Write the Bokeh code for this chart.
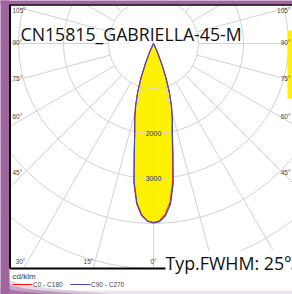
import numpy as np
from bokeh.plotting import figure
from bokeh.models import Label, Range1d
from bokeh.embed import file_html
from bokeh.resources import INLINE

# ---------------- data ----------------
title_text = "CN15815_GABRIELLA-45-M"
fwhm_text = "Typ.FWHM: 25°"
unit_text = "cd/klm"
series_names = ["C0 - C180", "C90 - C270"]

# angle from nadir (deg) and intensity (cd/klm)
angles = [0, 2, 4, 6, 8, 10, 12, 14, 16, 18, 20, 22, 24, 26, 28]
c0   = [3980, 3940, 3800, 3540, 3080, 2440, 1990, 1720, 1440, 1140, 800, 470, 220, 60, 0]
c180 = [3980, 3950, 3830, 3580, 3130, 2480, 2010, 1730, 1450, 1150, 810, 480, 220, 60, 0]
c90  = [3990, 3960, 3840, 3600, 3150, 2500, 2020, 1740, 1460, 1150, 810, 480, 225, 60, 0]
c270 = [3990, 3945, 3810, 3550, 3090, 2450, 2000, 1720, 1440, 1140, 800, 470, 220, 60, 0]

radial_grid = [1000, 2000, 3000, 4000, 5000, 6000, 7000]
radial_labels = {2000: "2000", 3000: "3000"}
angle_grid = list(range(0, 360, 15))
angle_labels_left = ["105°", "90°", "75°", "60°", "45°"]
angle_labels_bottom = ["30°", "15°", "0°"]
angle_labels_right = ["105°", "90°", "75°", "60°", "45°"]

# ---------------- layout helpers (page pixels -> data) ----------------
PX = 1000.0 / 45.0          # cd/klm per pixel
CX, CY = 153.0, 43.0        # page position of the polar centre
def X(px):
    return (np.asarray(px, float) - CX) * PX
def Y(py):
    return (CY - np.asarray(py, float)) * PX

W, H = 292, 294
p = figure(width=W, height=H, output_backend="svg", toolbar_location=None,
           x_range=Range1d(float(X(0)), float(X(W))), y_range=Range1d(float(Y(H)), float(Y(0))),
           x_axis_location=None, y_axis_location=None, min_border=0,
           outline_line_color=None, background_fill_color="white",
           border_fill_color="white")
p.grid.visible = False

GRID = "#d2d2d2"
PURPLE = "#a0649f"
YELLOW = "#fff200"
RED = "#ff1010"
BLUE = "#3a4fc0"
SMALL_FONT = "Liberation Sans"

def box(l, r, t, b, color, alpha=1.0):
    p.quad(left=float(X(l)), right=float(X(r)), top=float(Y(t)), bottom=float(Y(b)),
           fill_color=color, fill_alpha=alpha, line_color=None)

# lobe
def lobe(right, left):
    a = np.radians(angles)
    r = np.array(right, float)
    l = np.array(left, float)
    xs = np.concatenate([r * np.sin(a), (-l * np.sin(a))[::-1]])
    ys = np.concatenate([-r * np.cos(a), (-l * np.cos(a))[::-1]])
    return xs, ys

xr, yr = lobe(c0, c180)
xb, yb = lobe(c90, c270)
p.patch(xr, yr, fill_color=YELLOW, line_color=None)
p.patch(xb, yb, fill_color=YELLOW, line_color=None)

# grid circles
p.circle(x=[0] * len(radial_grid), y=[0] * len(radial_grid), radius=radial_grid,
         fill_color=None, line_color=GRID, line_width=1)
# radial lines
ang = np.radians(angle_grid)
p.segment(x0=1000 * np.sin(ang), y0=-1000 * np.cos(ang),
          x1=8000 * np.sin(ang), y1=-8000 * np.cos(ang),
          line_color=GRID, line_width=1)

# curves
p.line(xr, yr, line_color=RED, line_width=1.1)
p.line(xb, yb, line_color=BLUE, line_width=1.1)

# yellow bar at right edge
box(287, 300, 30, 98, YELLOW)

# white area below frame, purple surround
box(-5, 300, 268, 300, "white")
box(-5, 300, 290, 300, "#ece4ee")
box(-5, 300, -5, 4, PURPLE)
box(-5, 9, -5, 300, PURPLE)
for k, a in enumerate([0.25, 0.45, 0.7]):
    t = np.linspace(0, 1, 20)
    ex = 9 + (110 - 30 * k) * t ** 2
    ey = 278 + 5 * k + (16 - 5 * k) * t
    p.patch(X(np.concatenate([[0], ex, [0]])), Y(np.concatenate([[278 + 5 * k], ey, [300]])),
            fill_color=PURPLE, fill_alpha=a, line_color=None)

# frame border
p.line(X([9.5, 9.5]), Y([4, 268]), line_color="black", line_width=2)
p.line(X([9.5, 300]), Y([268, 268]), line_color="black", line_width=2)
p.line(X([9.5, 300]), Y([4.5, 4.5]), line_color="black", line_width=1.5)

# legend lines
p.line(X([12, 32]), Y([284, 284]), line_color=RED, line_width=1)
p.line(X([70, 90]), Y([284, 284]), line_color=BLUE, line_width=1)

# radial tick labels
for rv, txt in radial_labels.items():
    p.add_layout(Label(x=0, y=-rv, text=txt, text_align="center", text_baseline="middle",
                       text_font=SMALL_FONT, text_font_size="7px",
                       text_color="#333333"))

# angle labels
left_y = [10, 42, 78, 116, 172]
for txt, py in zip(angle_labels_left, left_y):
    p.add_layout(Label(x=float(X(12)), y=float(Y(py)), text=txt, text_align="left",
                       text_baseline="middle", text_font=SMALL_FONT, text_font_size="6.5px",
                       text_color="#444444"))
for txt, py in zip(angle_labels_right, left_y):
    p.add_layout(Label(x=float(X(290)), y=float(Y(py)), text=txt, text_align="right",
                       text_baseline="middle", text_font=SMALL_FONT, text_font_size="6.5px",
                       text_color="#444444"))
for txt, pxx in zip(angle_labels_bottom, [20, 88, 153]):
    p.add_layout(Label(x=float(X(pxx)), y=float(Y(261)), text=txt, text_align="center",
                       text_baseline="middle", text_font=SMALL_FONT, text_font_size="6.5px",
                       text_color="#444444"))

# title and FWHM
p.add_layout(Label(x=float(X(20)), y=float(Y(33)), text=title_text, text_align="left",
                   text_baseline="alphabetic", text_font="Open Sans",
                   text_font_size="17.7px", text_color="#111111"))
p.add_layout(Label(x=float(X(165)), y=float(Y(262)), text=fwhm_text, text_align="left",
                   text_baseline="alphabetic", text_font="Open Sans",
                   text_font_size="17.8px", text_color="#111111",
                   background_fill_color="white", background_fill_alpha=1))

# legend texts
p.add_layout(Label(x=float(X(12)), y=float(Y(276)), text=unit_text, text_align="left",
                   text_baseline="middle", text_font=SMALL_FONT, text_font_size="8px",
                   text_color="#333333"))
p.add_layout(Label(x=float(X(32.5)), y=float(Y(284)), text=series_names[0], text_align="left",
                   text_baseline="middle", text_font=SMALL_FONT, text_font_size="6.5px",
                   text_color="#444444"))
p.add_layout(Label(x=float(X(90.5)), y=float(Y(284)), text=series_names[1], text_align="left",
                   text_baseline="middle", text_font=SMALL_FONT, text_font_size="6.5px",
                   text_color="#444444"))

open("out.html", "w").write(file_html(p, INLINE))
